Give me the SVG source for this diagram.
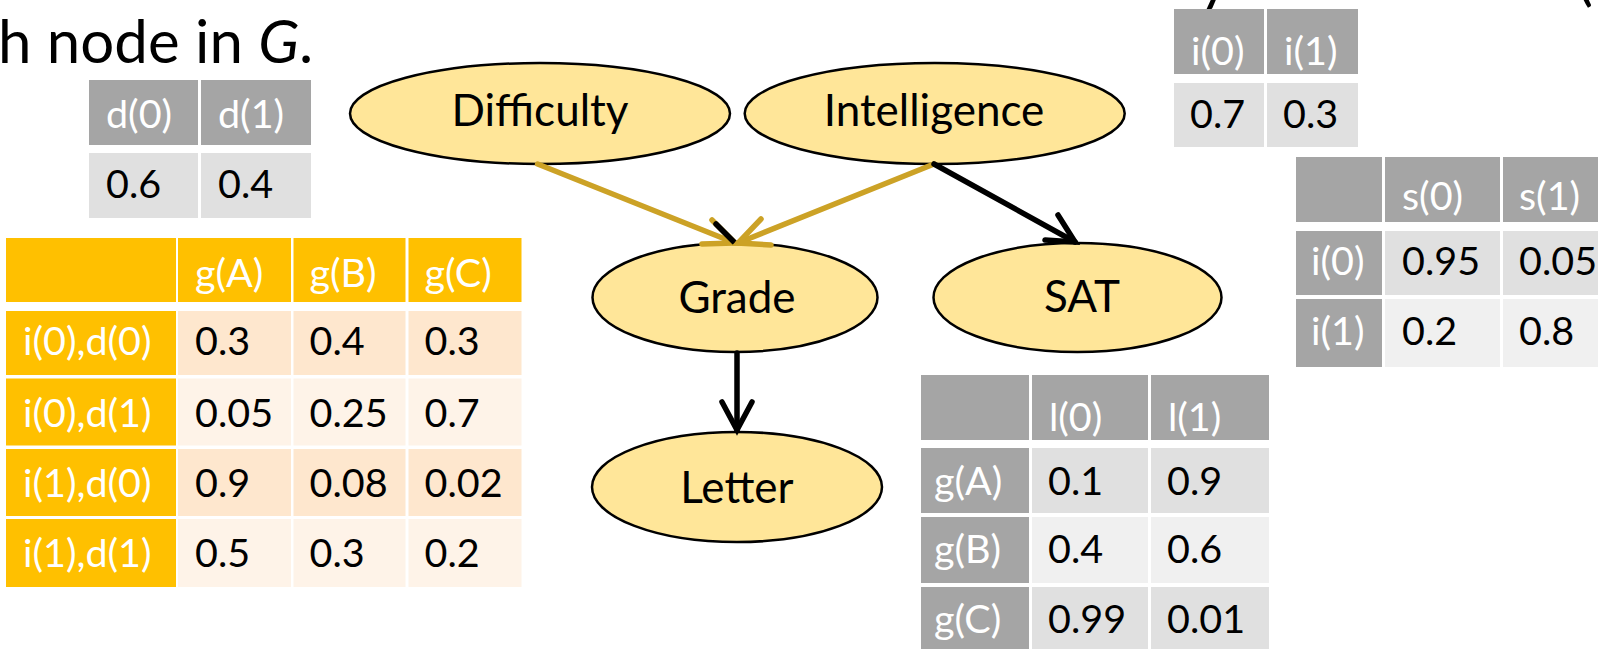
<svg xmlns="http://www.w3.org/2000/svg" width="1598" height="649" viewBox="0 0 1598 649">
<defs>
<style>
text{font-family:Lato,"Liberation Sans",sans-serif}
.title{font-size:60px;fill:#000}
.node ellipse{fill:#FFE699;stroke:#000;stroke-width:2.5}
.node text{font-size:44px;fill:#000;text-anchor:middle}
.hd{fill:#A5A5A5}
.b1{fill:#E0E0E0}
.b2{fill:#F0F0F0}
.gh{fill:#FFC000}
.p1{fill:#FEE7CE}
.p2{fill:#FEF3E8}
.cpd text{font-size:39.5px}
.w{fill:#fff}
.k{fill:#000}
.edge{fill:none;stroke-width:5.5;stroke-linecap:round;stroke-linejoin:miter}
.gold{stroke:#CCA226}
.black{stroke:#000}
</style>
</defs>
<rect width="1598" height="649" fill="#fff"/>

<!-- slide text lines, partly outside the frame -->
<text class="title" x="-2" y="63">h node in <tspan font-style="italic">G</tspan>.</text>
<text class="title" x="1199" y="-1">y</text>
<text class="title" x="1577" y="-1">(</text>

<!-- P(D) -->
<g id="cpd-difficulty" class="cpd">
<rect class="hd" x="89" y="80" width="109" height="65"/>
<rect class="hd" x="201" y="80" width="110" height="65"/>
<rect class="b1" x="89" y="153" width="109" height="65"/>
<rect class="b1" x="201" y="153" width="110" height="65"/>
<text class="w" x="106" y="128">d(0)</text>
<text class="w" x="218" y="128">d(1)</text>
<text class="k" x="106" y="198">0.6</text>
<text class="k" x="218" y="198">0.4</text>
</g>

<!-- P(I) -->
<g id="cpd-intelligence" class="cpd">
<rect class="hd" x="1174" y="9" width="90" height="65"/>
<rect class="hd" x="1267" y="9" width="91" height="65"/>
<rect class="b1" x="1174" y="83" width="90" height="64"/>
<rect class="b1" x="1267" y="83" width="91" height="64"/>
<text class="w" x="1191" y="65">i(0)</text>
<text class="w" x="1284" y="65">i(1)</text>
<text class="k" x="1190" y="128">0.7</text>
<text class="k" x="1283" y="128">0.3</text>
</g>

<!-- P(G | I, D) -->
<g id="cpd-grade" class="cpd">
<rect class="gh" x="6" y="238" width="170" height="64"/>
<rect class="gh" x="178" y="238" width="113" height="64"/>
<rect class="gh" x="293.5" y="238" width="112" height="64"/>
<rect class="gh" x="408.5" y="238" width="113" height="64"/>
<rect class="gh" x="6" y="311" width="170" height="64"/>
<rect class="gh" x="6" y="378.5" width="170" height="67"/>
<rect class="gh" x="6" y="449" width="170" height="67"/>
<rect class="gh" x="6" y="519" width="170" height="68"/>
<rect class="p1" x="178" y="311" width="113" height="64"/>
<rect class="p1" x="293.5" y="311" width="112" height="64"/>
<rect class="p1" x="408.5" y="311" width="113" height="64"/>
<rect class="p2" x="178" y="378.5" width="113" height="67"/>
<rect class="p2" x="293.5" y="378.5" width="112" height="67"/>
<rect class="p2" x="408.5" y="378.5" width="113" height="67"/>
<rect class="p1" x="178" y="449" width="113" height="67"/>
<rect class="p1" x="293.5" y="449" width="112" height="67"/>
<rect class="p1" x="408.5" y="449" width="113" height="67"/>
<rect class="p2" x="178" y="519" width="113" height="68"/>
<rect class="p2" x="293.5" y="519" width="112" height="68"/>
<rect class="p2" x="408.5" y="519" width="113" height="68"/>
<text class="w" x="195" y="287">g(A)</text>
<text class="w" x="309.5" y="287">g(B)</text>
<text class="w" x="424.5" y="287">g(C)</text>
<text class="w" x="23" y="355">i(0),d(0)</text>
<text class="w" x="23" y="427">i(0),d(1)</text>
<text class="w" x="23" y="497">i(1),d(0)</text>
<text class="w" x="23" y="567">i(1),d(1)</text>
<text class="k" x="195" y="355">0.3</text>
<text class="k" x="309.5" y="355">0.4</text>
<text class="k" x="424.5" y="355">0.3</text>
<text class="k" x="195" y="427">0.05</text>
<text class="k" x="309.5" y="427">0.25</text>
<text class="k" x="424.5" y="427">0.7</text>
<text class="k" x="195" y="497">0.9</text>
<text class="k" x="309.5" y="497">0.08</text>
<text class="k" x="424.5" y="497">0.02</text>
<text class="k" x="195" y="567">0.5</text>
<text class="k" x="309.5" y="567">0.3</text>
<text class="k" x="424.5" y="567">0.2</text>
</g>

<!-- P(S | I) -->
<g id="cpd-sat" class="cpd">
<rect class="hd" x="1296" y="157" width="86" height="65"/>
<rect class="hd" x="1385" y="157" width="115" height="65"/>
<rect class="hd" x="1503" y="157" width="100" height="65"/>
<rect class="hd" x="1296" y="231" width="86" height="64"/>
<rect class="hd" x="1296" y="299" width="86" height="68"/>
<rect class="b1" x="1385" y="231" width="115" height="64"/>
<rect class="b1" x="1503" y="231" width="100" height="64"/>
<rect class="b2" x="1385" y="299" width="115" height="68"/>
<rect class="b2" x="1503" y="299" width="100" height="68"/>
<text class="w" x="1402" y="210">s(0)</text>
<text class="w" x="1519" y="210">s(1)</text>
<text class="w" x="1311" y="275">i(0)</text>
<text class="w" x="1311" y="345">i(1)</text>
<text class="k" x="1402" y="275">0.95</text>
<text class="k" x="1519" y="275">0.05</text>
<text class="k" x="1402" y="345">0.2</text>
<text class="k" x="1519" y="345">0.8</text>
</g>

<!-- P(L | G) -->
<g id="cpd-letter" class="cpd">
<rect class="hd" x="921" y="375" width="108" height="65"/>
<rect class="hd" x="1032" y="375" width="116" height="65"/>
<rect class="hd" x="1151" y="375" width="118" height="65"/>
<rect class="hd" x="921" y="448" width="108" height="65"/>
<rect class="hd" x="921" y="517" width="108" height="66"/>
<rect class="hd" x="921" y="587" width="108" height="70"/>
<rect class="b1" x="1032" y="448" width="116" height="65"/>
<rect class="b1" x="1151" y="448" width="118" height="65"/>
<rect class="b2" x="1032" y="517" width="116" height="66"/>
<rect class="b2" x="1151" y="517" width="118" height="66"/>
<rect class="b1" x="1032" y="587" width="116" height="70"/>
<rect class="b1" x="1151" y="587" width="118" height="70"/>
<text class="w" x="1049" y="431">l(0)</text>
<text class="w" x="1168" y="431">l(1)</text>
<text class="w" x="934" y="495">g(A)</text>
<text class="w" x="934" y="563">g(B)</text>
<text class="w" x="934" y="633">g(C)</text>
<text class="k" x="1048" y="495">0.1</text>
<text class="k" x="1167" y="495">0.9</text>
<text class="k" x="1048" y="563">0.4</text>
<text class="k" x="1167" y="563">0.6</text>
<text class="k" x="1048" y="633">0.99</text>
<text class="k" x="1167" y="633">0.01</text>
</g>

<!-- nodes -->
<g id="node-difficulty" class="node">
<ellipse cx="540" cy="113.5" rx="190" ry="50.5"/>
<text x="540" y="126">Difficulty</text>
</g>
<g id="node-intelligence" class="node">
<ellipse cx="934.7" cy="113.5" rx="190" ry="50.5"/>
<text x="934" y="126">Intelligence</text>
</g>
<g id="node-grade" class="node">
<ellipse cx="735" cy="297.5" rx="142.5" ry="54.5"/>
<text x="737" y="313">Grade</text>
</g>
<g id="node-sat" class="node">
<ellipse cx="1077.5" cy="297.5" rx="144" ry="54.5"/>
<text x="1082" y="312">SAT</text>
</g>
<g id="node-letter" class="node">
<ellipse cx="737" cy="487" rx="145" ry="55"/>
<text x="737" y="503">Letter</text>
</g>

<!-- connectors -->
<g id="connectors">
<path class="edge gold" d="M537.6,164 L735,243"/>
<path class="edge gold" d="M712,220 L735,243 L702,244"/>
<path class="edge black" d="M716,224 L734,242" stroke-width="4"/>
<path class="edge gold" d="M934,164 L738,243"/>
<path class="edge gold" d="M761,219 L738,243 L771,245"/>
<path class="edge black" d="M934,164 L1075,242"/>
<path class="edge black" d="M1058,215 L1075,242 L1045,240"/>
<path class="edge black" d="M737,353 L737,430"/>
<path class="edge black" d="M722,402 L737,430 L752,402"/>
</g>
</svg>
